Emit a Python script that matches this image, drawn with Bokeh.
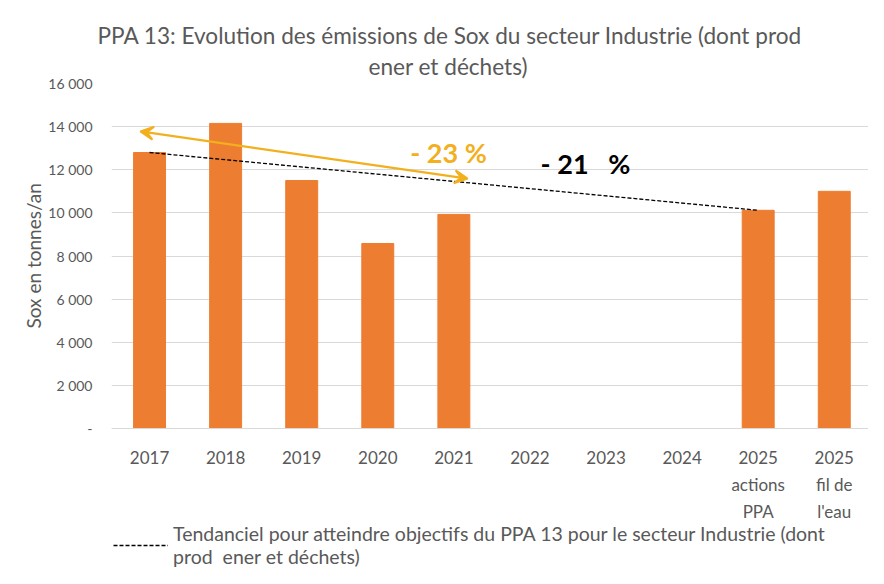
from bokeh.plotting import figure
from bokeh.embed import file_html
from bokeh.resources import INLINE
from bokeh.models import (Range1d, FixedTicker, Arrow, VeeHead, Label, Legend, LegendItem, Title, ColumnDataSource)

FONT = "Lato"
GREY = "#595959"

categories = ["2017", "2018", "2019", "2020", "2021", "2022", "2023", "2024",
              "2025\nactions\nPPA", "2025\nfil de\nl'eau"]
emissions = [12800, 14150, 11500, 8580, 9930, None, None, None, 10120, 11000]
trend_cats = [0, 8]
trend_vals = [12800, 10120]
y_ticks = [0, 2000, 4000, 6000, 8000, 10000, 12000, 14000, 16000]
arrow_pts = {"x_start": -0.12, "y_start": 13780, "x_end": 4.18, "y_end": 11590}
pct_ppa = "- 23 %"
pct_trend = "- 21\u00a0\u00a0\u00a0%"
title_lines = ["PPA 13: Evolution des émissions de Sox du secteur Industrie (dont prod",
               "ener et déchets)"]
y_label = "Sox en tonnes/an"
legend_label = "Tendanciel pour atteindre objectifs du PPA 13 pour le secteur Industrie (dont\nprod\u00a0 ener et déchets)"

# frame extends below zero so that the axis labels and the legend sit inside it
p = figure(width=868, height=568, output_backend="svg", toolbar_location=None,
           x_range=Range1d(-0.5, 9.45), y_range=Range1d(-6490, 16000),
           min_border_left=111, min_border_right=0, min_border_top=83, min_border_bottom=0)
p.title = None
p.outline_line_color = None
p.background_fill_color = "white"
p.border_fill_color = "white"

xs = [i for i, v in enumerate(emissions) if v is not None]
tops = [v for v in emissions if v is not None]
src = ColumnDataSource(dict(x=xs, top=tops))
p.vbar(x="x", top="top", bottom=0, width=0.42, source=src, color="#ED7D31")

trend = p.line(x=trend_cats, y=trend_vals, line_color="black", line_dash="4 2", line_width=1.3)

ARROW_C = "#F2B01E"
p.add_layout(Arrow(start=VeeHead(size=13, line_color=ARROW_C, fill_color=ARROW_C, line_width=2),
                   end=VeeHead(size=13, line_color=ARROW_C, fill_color=ARROW_C, line_width=2),
                   x_start=arrow_pts["x_start"], y_start=arrow_pts["y_start"],
                   x_end=arrow_pts["x_end"], y_end=arrow_pts["y_end"],
                   line_color=ARROW_C, line_width=2.2))

p.add_layout(Label(x=3.93, y=12800, text=pct_ppa, text_color=ARROW_C, text_font=FONT,
                   text_font_size="27px", text_font_style="bold", text_align="center", text_baseline="middle"))
p.add_layout(Label(x=5.73, y=12290, text=pct_trend, text_color="black", text_font=FONT,
                   text_font_size="27px", text_font_style="bold", text_align="center", text_baseline="middle"))

# x axis fixed at zero
xa = p.xaxis[0]
xa.fixed_location = 0
xa.ticker = FixedTicker(ticks=list(range(len(categories))))
xa.major_label_overrides = {i: c for i, c in enumerate(categories)}
xa.major_tick_line_color = None
xa.minor_tick_line_color = None
xa.axis_line_color = "#d9d9d9"
xa.major_label_text_font = FONT
xa.major_label_text_font_size = "17px"
xa.major_label_text_color = GREY
xa.major_label_text_line_height = 1.3
xa.major_label_standoff = 12

ya = p.yaxis[0]
ya.ticker = FixedTicker(ticks=y_ticks)
ya.major_label_overrides = {t: ("-" if t == 0 else f"{t:,}".replace(",", " ")) for t in y_ticks}
ya.major_tick_line_color = None
ya.minor_tick_line_color = None
ya.axis_line_color = None
ya.major_label_text_font = FONT
ya.major_label_text_font_size = "14px"
ya.major_label_text_color = GREY
ya.major_label_standoff = 13

p.add_layout(Title(text=y_label, align="left", offset=240, text_font=FONT, text_font_size="19px",
                   text_font_style="normal", text_color=GREY, standoff=2), "left")

p.xgrid.grid_line_color = None
p.ygrid.grid_line_color = "#d9d9d9"
p.ygrid.ticker = FixedTicker(ticks=y_ticks)

# title lines: first added is closest to the frame
p.add_layout(Title(text=title_lines[1], align="left", offset=257, text_font=FONT, text_font_size="22.6px",
                   text_font_style="normal", text_color=GREY, standoff=7), "above")
p.add_layout(Title(text=title_lines[0], align="left", offset=-14, text_font=FONT, text_font_size="22.6px",
                   text_font_style="normal", text_color=GREY, standoff=-3), "above")

legend = Legend(items=[LegendItem(label=legend_label, renderers=[trend])],
                location=(2, 0), glyph_width=55, label_text_font=FONT, label_text_font_size="19.5px",
                label_text_color=GREY, label_text_line_height=1.22, border_line_color=None,
                background_fill_alpha=0, padding=0, margin=0, label_standoff=5)
p.add_layout(legend, "center")

open("out.html", "w").write(file_html(p, INLINE))
